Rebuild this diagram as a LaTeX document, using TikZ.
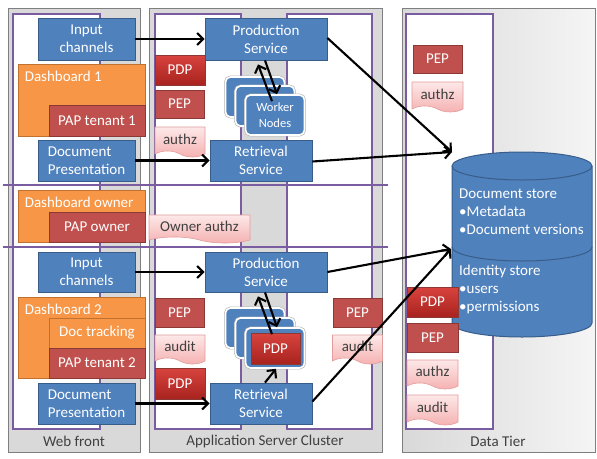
\documentclass[tikz,border=0pt]{standalone}
\usepackage{fontspec}
\setmainfont{Carlito}
\usepackage{tikz}
\usetikzlibrary{arrows.meta, shapes.symbols}
\definecolor{blu}{HTML}{4F81BD}
\definecolor{bluedge}{HTML}{385D8A}
\definecolor{orng}{HTML}{F79646}
\definecolor{orngedge}{HTML}{C0712E}
\definecolor{redd}{HTML}{C0504D}
\definecolor{reddedge}{HTML}{8C3836}
\definecolor{pdptop}{HTML}{D8433E}
\definecolor{pdpbot}{HTML}{A8231F}
\definecolor{pinktop}{HTML}{FDE8E8}
\definecolor{pinkbot}{HTML}{F5B0B0}
\definecolor{pinkedge}{HTML}{E39C9C}
\definecolor{purp}{HTML}{7A5CA0}
\definecolor{panel}{HTML}{D9D9D9}
\definecolor{paneledge}{HTML}{7F7F7F}
\definecolor{txt}{HTML}{404040}

\begin{document}
\begin{tikzpicture}[x=1pt, y=-1pt, font=\fontsize{15}{18}\selectfont,
  sz/.style 2 args={minimum width=#1pt, minimum height=#2pt},
  b/.style={draw=bluedge, fill=blu, text=white, line width=0.8pt, align=center, inner sep=1pt},
  dsh/.style={draw=orngedge, fill=orng, line width=0.8pt},
  dl/.style={anchor=north west, text=white, inner sep=0pt, xshift=7pt, yshift=-7pt},
  pap/.style={draw=reddedge, fill=redd, text=white, line width=0.6pt, inner sep=1pt},
  pdp/.style={draw=reddedge, top color=pdptop, bottom color=pdpbot, text=white, line width=0.6pt, inner sep=1pt},
  doc/.style={shape=tape, tape bend top=none, tape bend bottom=out and in, tape bend height=6pt,
    draw=pinkedge, top color=pinktop, bottom color=pinkbot, text=txt, line width=0.6pt, inner sep=1pt},
  wk/.style={fill=blu, draw=white, line width=1.6pt, rounded corners=5pt,
    preaction={draw=gray!60, line width=2.8pt}, sz={59}{40}},
  pnl/.style={draw=paneledge, fill=panel, line width=1pt},
  wr/.style={draw=purp, fill=white, line width=1.2pt},
  ar/.style={-{Straight Barb[length=6pt,width=12pt]}, line width=2.1pt}]
\useasboundingbox (0,0) rectangle (597,458);
\draw[pnl] (8,8) rectangle (140,452);
\draw[pnl] (149,8) rectangle (382,452);
\draw[draw=paneledge, line width=1pt, left color=gray!30, right color=gray!8] (402,8) rectangle (595,452);
\draw[wr] (13,14) rectangle (100,429);
\draw[wr] (155,14) rectangle (241,429);
\draw[wr] (287,14) rectangle (372,429);
\draw[wr] (406,14) rectangle (493,429);
\draw[purp, line width=1.4pt] (3,185) -- (388,185);
\draw[purp, line width=1.4pt] (3,247) -- (388,247);
\node[text=txt] (lweb) at (74,441) {Web front};
\node[text=txt] (lapp) at (265,441) {Application Server Cluster};
\node[text=txt] (ldata) at (498,441) {Data Tier};

\node[b, sz={97}{42}] (in1) at (86.5,39) {Input\\channels};
\node[dsh, sz={127}{72}, label={[dl]north west:Dashboard 1}] (db1) at (81.5,100) {};
\node[pap, sz={96}{31}] (pap1) at (97,120.5) {PAP tenant 1};
\node[b, sz={97}{41}, align=left] (dp1) at (86.5,160.5) {Document\\Presentation};
\node[dsh, sz={127}{52}, label={[dl]north west:Dashboard owner}] (dbo) at (81.5,216) {};
\node[pap, sz={96}{30}] (papo) at (97,227) {PAP owner};
\node[doc, sz={101}{28}] (oauthz) at (199.5,226) {Owner authz};
\node[b, sz={97}{40}] (in2) at (86.5,272) {Input\\channels};
\node[dsh, sz={127}{81}, label={[dl]north west:Dashboard 2}] (db2) at (81.5,337.5) {};
\node[dsh, sz={96}{30}, text=white] (doct) at (97,333) {Doc tracking};
\node[pap, sz={96}{30}] (pap2) at (97,363) {PAP tenant 2};
\node[b, sz={97}{41}, align=left] (dp2) at (86.5,403.5) {Document\\Presentation};

\node[b, sz={122}{42}] (prod1) at (266,39) {Production\\Service};
\node[pdp, sz={50}{30}] (pdp1) at (180,70) {PDP};
\node[pap, sz={49}{28}] (pep1) at (179.5,104) {PEP};
\node[doc, sz={50}{30}] (authz1) at (180,139) {authz};
\node[wk] (wk1a) at (255,97) {};
\node[wk] (wk1b) at (265,106) {};
\node[wk, text=white, align=center, font=\fontsize{12.5}{16}\selectfont] (wk1c) at (275,115) {Worker\\Nodes};
\node[b, sz={102}{41}] (ret1) at (261,160.5) {Retrieval\\Service};
\node[b, sz={122}{40}] (prod2) at (266,272) {Production\\Service};
\node[pap, sz={49}{29}] (pep2) at (179.5,312.5) {PEP};
\node[doc, sz={50}{29}] (audit2) at (180,346.5) {audit};
\node[pdp, sz={50}{31}] (pdp2) at (180,383.5) {PDP};
\node[wk] (wk2a) at (255,328) {};
\node[wk] (wk2b) at (265,338) {};
\node[wk] (wk2c) at (275,348) {};
\node[pdp, sz={49}{31}] (pdpw) at (275.5,348.5) {PDP};
\node[b, sz={102}{41}] (ret2) at (261,403.5) {Retrieval\\Service};
\node[pap, sz={49}{29}] (pep2b) at (357.5,312.5) {PEP};
\node[doc, sz={50}{29}] (audit2b) at (357.5,346.5) {audit};

\node[pap, sz={49}{28}] (pep3) at (437.5,59) {PEP};
\node[doc, sz={51}{30}] (authz3) at (437.5,94) {authz};
\filldraw[fill=blu, draw=bluedge, line width=1pt] (452,166) -- (452,323)
  arc[start angle=180, end angle=360, x radius=70pt, y radius=14pt] -- (592,166)
  arc[start angle=0, end angle=180, x radius=70pt, y radius=14pt] -- cycle;
\draw[bluedge, line width=1pt] (452,166) arc[start angle=180, end angle=360, x radius=70pt, y radius=14pt];
\draw[bluedge, line width=1pt] (452,247) arc[start angle=180, end angle=360, x radius=70pt, y radius=14pt];
\node[anchor=north west, align=left, text=white, inner sep=0pt] (dstore) at (459,189) {Document store\\•Metadata\\•Document versions};
\node[anchor=north west, align=left, text=white, inner sep=0pt] (istore) at (459,265) {Identity store\\•users\\•permissions};
\coordinate (dbin1) at (452,152);
\coordinate (dbin2) at (451,249);
\node[pdp, sz={51}{30}] (pdp3) at (432.5,302) {PDP};
\node[pap, sz={51}{29}] (pep3b) at (432.5,337.5) {PEP};
\node[doc, sz={51}{29}] (authz3b) at (432.5,371.5) {authz};
\node[doc, sz={51}{30}] (audit3b) at (432.5,407) {audit};

\draw[ar] (in1.east) -- (prod1.west);
\draw[ar] (dp1.east) -- (ret1.west);
\draw[ar] (in2.east) -- (prod2.west);
\draw[ar] (dp2.east) -- (ret2.west);
\draw[ar] ([xshift=-1pt]prod1.south) -- ([xshift=2pt]wk1c.north);
\draw[ar] ([xshift=-3pt, yshift=-7pt]wk1c.north) -- ([xshift=-8pt, yshift=-4pt]prod1.south);
\draw[ar] ([xshift=-1pt]prod2.south) -- ([xshift=2pt]wk2c.north);
\draw[ar] ([xshift=-3pt, yshift=-7pt]wk2c.north) -- ([xshift=-8pt, yshift=-4pt]prod2.south);
\draw[ar] ([xshift=4pt]ret2.north) -- ([xshift=1pt]wk2c.south);
\draw[ar] ([yshift=1pt]prod1.east) -- (dbin1);
\draw[ar] ([yshift=-1pt]ret1.east) -- (dbin1);
\draw[ar] (prod2.east) -- (dbin2);
\draw[ar] ([yshift=2pt]ret2.east) -- (dbin2);
\end{tikzpicture}
\end{document}
